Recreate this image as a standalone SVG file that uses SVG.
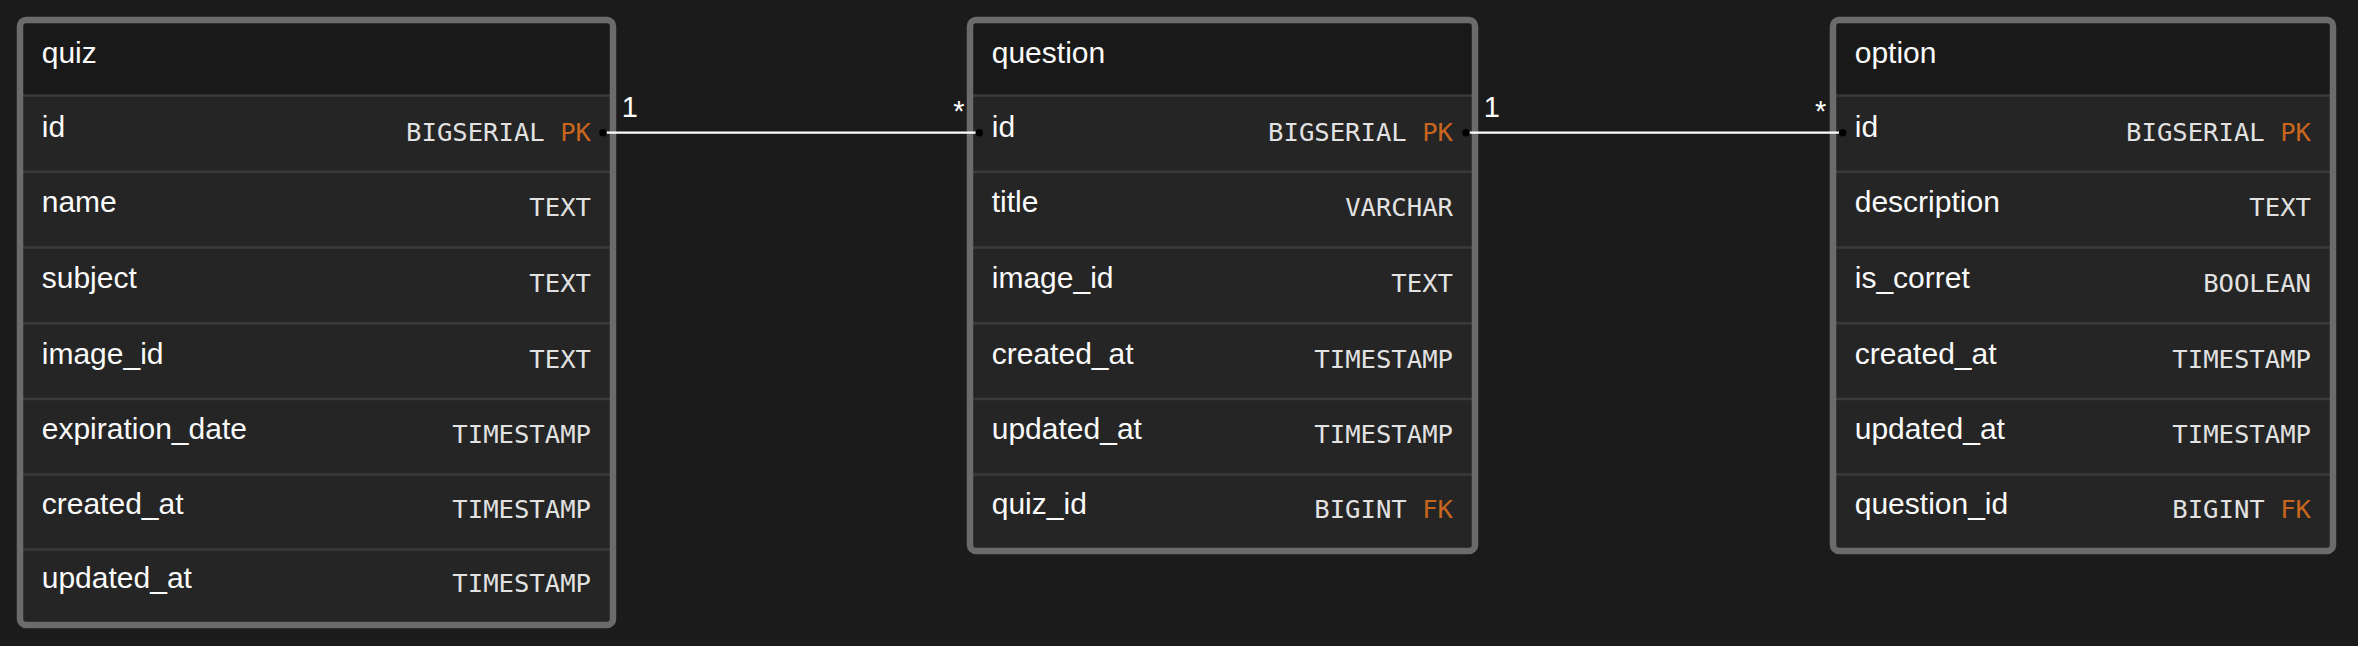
<svg xmlns="http://www.w3.org/2000/svg" width="2358" height="646" viewBox="0 0 2358 646">
<defs>
<style>
.bg{fill:#1b1b1b}
.body{fill:#252525}
.head{fill:#191919}
.div{stroke:#3a3a3a;stroke-width:2.5}
.border{fill:none;stroke:#6b6b6b;stroke-width:6.5}
.nm{font-family:"Liberation Sans",Arial,sans-serif;font-size:30px;fill:#fafafa}
.ty{font-family:"DejaVu Sans Mono","Liberation Mono",monospace;font-size:25.6px;fill:#e2e2e2;text-anchor:end}
.k{fill:#c8651f}
.edge{stroke:#ffffff;stroke-width:2.3;fill:none}
.dot{fill:#000000}
.lbl{font-family:"Liberation Sans",Arial,sans-serif;font-size:29px;fill:#ffffff}
</style>
</defs>
<rect class="bg" x="0" y="0" width="2358" height="646"/>

<g id="quiz">
<rect class="body" x="20" y="20" width="593" height="605" rx="6"/>
<path class="head" d="M20,95.5 V26 A6,6 0 0 1 26,20 H607 A6,6 0 0 1 613,26 V95.5 Z"/>
<line class="div" x1="23" y1="95.5" x2="610" y2="95.5"/>
<line class="div" x1="23" y1="171.8" x2="610" y2="171.8"/>
<line class="div" x1="23" y1="247.5" x2="610" y2="247.5"/>
<line class="div" x1="23" y1="323.3" x2="610" y2="323.3"/>
<line class="div" x1="23" y1="399" x2="610" y2="399"/>
<line class="div" x1="23" y1="474.5" x2="610" y2="474.5"/>
<line class="div" x1="23" y1="549.5" x2="610" y2="549.5"/>
<rect class="border" x="20" y="20" width="593" height="605" rx="6"/>
<text class="nm" x="41.75" y="63.3">quiz</text>
<text class="nm" x="41.75" y="136.5">id</text>
<text class="ty" x="591" y="140.5">BIGSERIAL <tspan class="k">PK</tspan></text>
<text class="nm" x="41.75" y="212.3">name</text>
<text class="ty" x="591" y="216.3">TEXT</text>
<text class="nm" x="41.75" y="288">subject</text>
<text class="ty" x="591" y="292">TEXT</text>
<text class="nm" x="41.75" y="363.7">image_id</text>
<text class="ty" x="591" y="367.7">TEXT</text>
<text class="nm" x="41.75" y="439.3">expiration_date</text>
<text class="ty" x="591" y="443.3">TIMESTAMP</text>
<text class="nm" x="41.75" y="514.3">created_at</text>
<text class="ty" x="591" y="518.3">TIMESTAMP</text>
<text class="nm" x="41.75" y="588.3">updated_at</text>
<text class="ty" x="591" y="592.3">TIMESTAMP</text>
</g>

<g id="question">
<rect class="body" x="970" y="20" width="505" height="531" rx="6"/>
<path class="head" d="M970,95.5 V26 A6,6 0 0 1 976,20 H1469 A6,6 0 0 1 1475,26 V95.5 Z"/>
<line class="div" x1="973" y1="95.5" x2="1472" y2="95.5"/>
<line class="div" x1="973" y1="171.8" x2="1472" y2="171.8"/>
<line class="div" x1="973" y1="247.5" x2="1472" y2="247.5"/>
<line class="div" x1="973" y1="323.3" x2="1472" y2="323.3"/>
<line class="div" x1="973" y1="399" x2="1472" y2="399"/>
<line class="div" x1="973" y1="474.5" x2="1472" y2="474.5"/>
<rect class="border" x="970" y="20" width="505" height="531" rx="6"/>
<text class="nm" x="991.75" y="63.3">question</text>
<text class="nm" x="991.75" y="136.5">id</text>
<text class="ty" x="1453" y="140.5">BIGSERIAL <tspan class="k">PK</tspan></text>
<text class="nm" x="991.75" y="212.3">title</text>
<text class="ty" x="1453" y="216.3">VARCHAR</text>
<text class="nm" x="991.75" y="288">image_id</text>
<text class="ty" x="1453" y="292">TEXT</text>
<text class="nm" x="991.75" y="363.7">created_at</text>
<text class="ty" x="1453" y="367.7">TIMESTAMP</text>
<text class="nm" x="991.75" y="439.3">updated_at</text>
<text class="ty" x="1453" y="443.3">TIMESTAMP</text>
<text class="nm" x="991.75" y="513.5">quiz_id</text>
<text class="ty" x="1453" y="518.3">BIGINT <tspan class="k">FK</tspan></text>
</g>

<g id="option">
<rect class="body" x="1833" y="20" width="500" height="531" rx="6"/>
<path class="head" d="M1833,95.5 V26 A6,6 0 0 1 1839,20 H2327 A6,6 0 0 1 2333,26 V95.5 Z"/>
<line class="div" x1="1836" y1="95.5" x2="2330" y2="95.5"/>
<line class="div" x1="1836" y1="171.8" x2="2330" y2="171.8"/>
<line class="div" x1="1836" y1="247.5" x2="2330" y2="247.5"/>
<line class="div" x1="1836" y1="323.3" x2="2330" y2="323.3"/>
<line class="div" x1="1836" y1="399" x2="2330" y2="399"/>
<line class="div" x1="1836" y1="474.5" x2="2330" y2="474.5"/>
<rect class="border" x="1833" y="20" width="500" height="531" rx="6"/>
<text class="nm" x="1854.75" y="63.3">option</text>
<text class="nm" x="1854.75" y="136.5">id</text>
<text class="ty" x="2311" y="140.5">BIGSERIAL <tspan class="k">PK</tspan></text>
<text class="nm" x="1854.75" y="212.3">description</text>
<text class="ty" x="2311" y="216.3">TEXT</text>
<text class="nm" x="1854.75" y="288">is_corret</text>
<text class="ty" x="2311" y="292">BOOLEAN</text>
<text class="nm" x="1854.75" y="363.7">created_at</text>
<text class="ty" x="2311" y="367.7">TIMESTAMP</text>
<text class="nm" x="1854.75" y="439.3">updated_at</text>
<text class="ty" x="2311" y="443.3">TIMESTAMP</text>
<text class="nm" x="1854.75" y="513.5">question_id</text>
<text class="ty" x="2311" y="518.3">BIGINT <tspan class="k">FK</tspan></text>
</g>

<g id="connectors">
<g id="quiz-question">
<line class="edge" x1="603" y1="132.7" x2="979.3" y2="132.7"/>
<circle class="dot" cx="603" cy="132.7" r="3.8"/>
<circle class="dot" cx="979.3" cy="132.7" r="3.8"/>
<text class="lbl" x="621.8" y="117.3">1</text>
<text class="lbl" x="964.5" y="120.8" text-anchor="end">*</text>
</g>
<g id="question-option">
<line class="edge" x1="1466" y1="132.7" x2="1842.7" y2="132.7"/>
<circle class="dot" cx="1466" cy="132.7" r="3.8"/>
<circle class="dot" cx="1842.7" cy="132.7" r="3.8"/>
<text class="lbl" x="1483.8" y="117.3">1</text>
<text class="lbl" x="1826.2" y="120.8" text-anchor="end">*</text>
</g>
</g>
</svg>
